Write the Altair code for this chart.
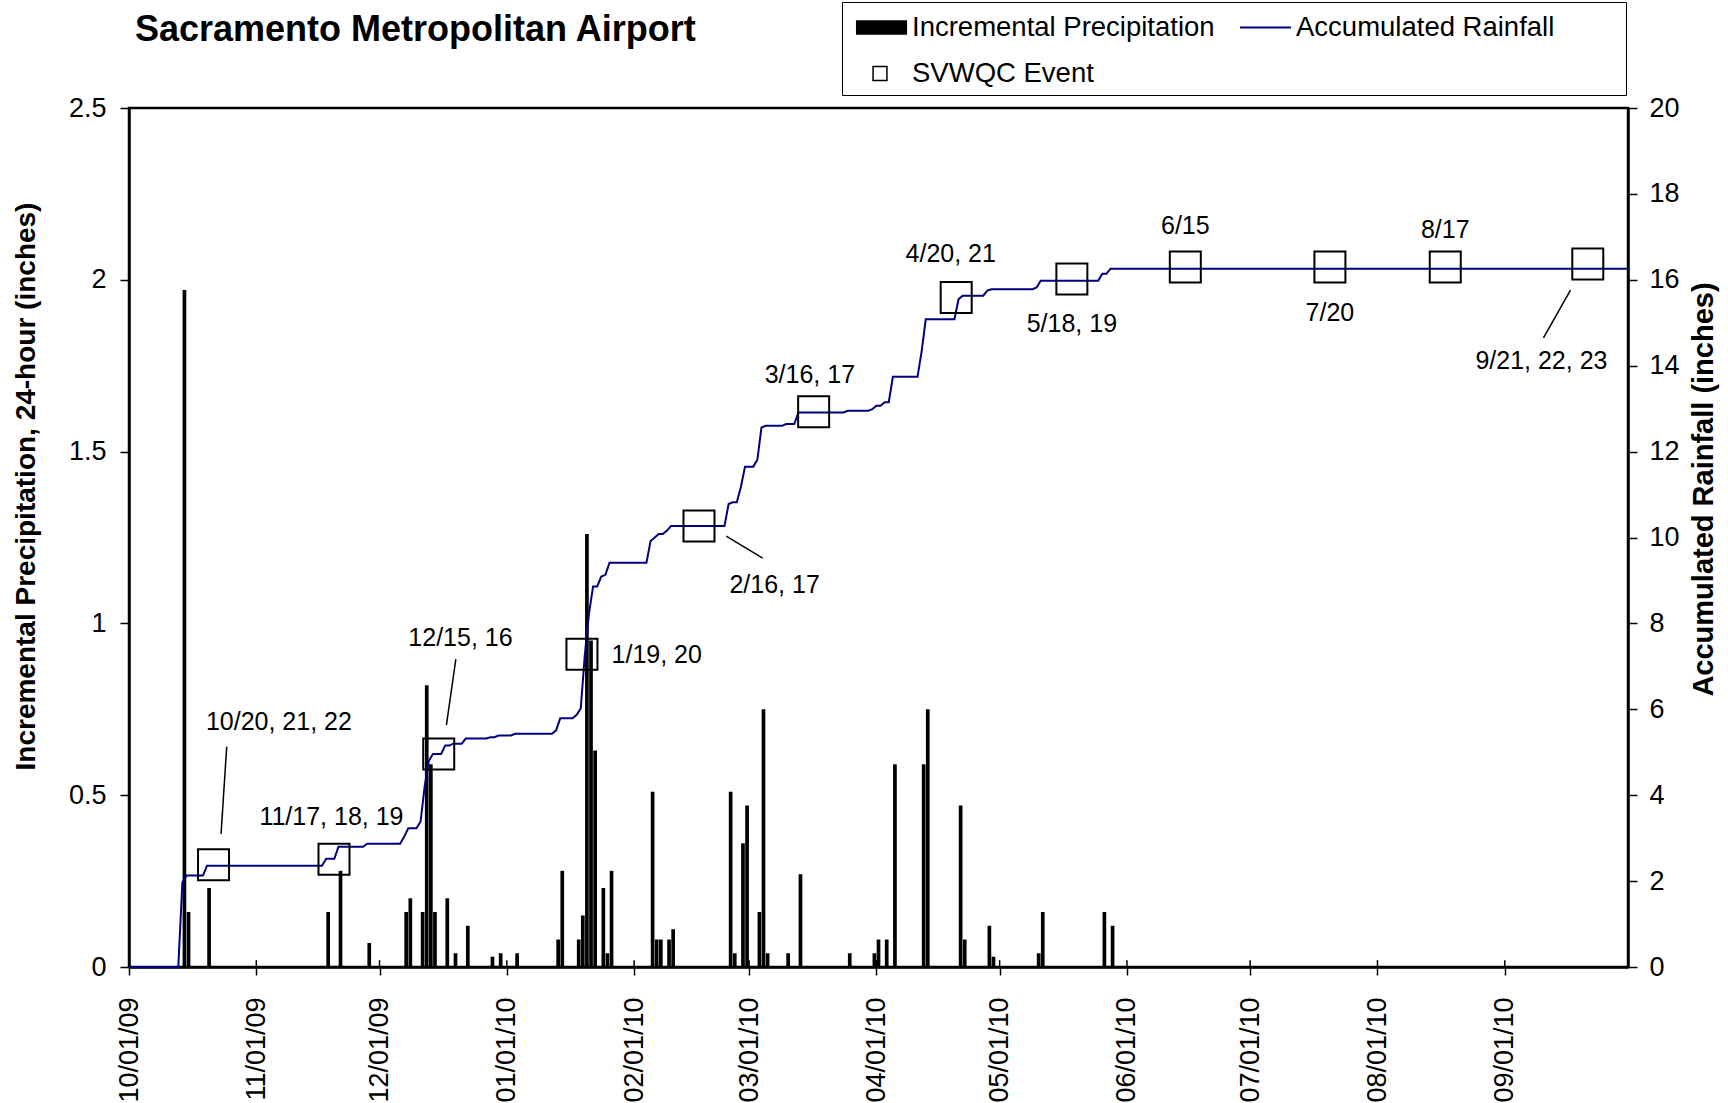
import altair as alt
import pandas as pd

FONT = "Liberation Sans"
TITLE = "Sacramento Metropolitan Airport"

# ---- daily incremental precipitation (inches) ----
bar_dates = [
    "2009-10-14", "2009-10-15", "2009-10-20", "2009-11-18", "2009-11-21", "2009-11-28",
    "2009-12-07", "2009-12-08", "2009-12-11", "2009-12-12", "2009-12-13", "2009-12-14",
    "2009-12-17", "2009-12-19", "2009-12-22", "2009-12-28", "2009-12-30", "2010-01-03",
    "2010-01-13", "2010-01-14", "2010-01-18", "2010-01-19", "2010-01-20", "2010-01-21",
    "2010-01-22", "2010-01-24", "2010-01-25", "2010-01-26", "2010-02-05", "2010-02-06",
    "2010-02-07", "2010-02-09", "2010-02-10", "2010-02-24", "2010-02-25", "2010-02-27",
    "2010-02-28", "2010-03-03", "2010-03-04", "2010-03-05", "2010-03-10", "2010-03-13",
    "2010-03-25", "2010-03-31", "2010-04-01", "2010-04-03", "2010-04-05", "2010-04-12",
    "2010-04-13", "2010-04-21", "2010-04-22", "2010-04-28", "2010-04-29", "2010-05-10",
    "2010-05-11", "2010-05-26", "2010-05-28",
]
bar_precip = [
    1.97, 0.16, 0.23, 0.16, 0.28, 0.07,
    0.16, 0.20, 0.16, 0.82, 0.59, 0.16,
    0.20, 0.04, 0.12, 0.03, 0.04, 0.04,
    0.08, 0.28, 0.08, 0.15, 1.26, 0.95,
    0.63, 0.23, 0.04, 0.28, 0.51, 0.08,
    0.08, 0.08, 0.11, 0.51, 0.04, 0.36,
    0.47, 0.16, 0.75, 0.04, 0.04, 0.27,
    0.04, 0.04, 0.08, 0.08, 0.59, 0.59,
    0.75, 0.47, 0.08, 0.12, 0.03, 0.04,
    0.16, 0.16, 0.12,
]

# ---- SVWQC events ----
event_times = [
    "2009-10-21T14:00", "2009-11-19T22:00", "2009-12-15T10:00", "2010-01-19T07:00",
    "2010-02-16T19:00", "2010-03-16T17:00", "2010-04-20T10:00", "2010-05-18T14:00",
    "2010-06-15T05:00", "2010-07-20T10:00", "2010-08-17T12:00", "2010-09-21T05:00",
]
event_values = [2.38, 2.51, 4.96, 7.28, 10.27, 12.93, 15.59, 16.02, 16.30, 16.30, 16.30, 16.37]
event_labels = [
    "10/20, 21, 22", "11/17, 18, 19", "12/15, 16", "1/19, 20", "2/16, 17", "3/16, 17",
    "4/20, 21", "5/18, 19", "6/15", "7/20", "8/17", "9/21, 22,  23",
]
# label anchors (date, accumulated-rainfall units)
label_times = [
    "2009-11-06T12:00", "2009-11-19T07:00", "2009-12-20T17:00", "2010-02-06T12:00",
    "2010-03-07T05:00", "2010-03-15T19:00", "2010-04-19T02:00", "2010-05-18T14:00",
    "2010-06-15T05:00", "2010-07-20T10:00", "2010-08-17T12:00", "2010-09-09T22:00",
]
label_values = [5.70, 3.50, 7.66, 7.26, 8.89, 13.78, 16.61, 14.97, 17.25, 15.23, 17.15, 14.10]

# leader lines
leader_start_times = ["2009-10-24T19:00", "2009-12-19T14:00", "2010-02-23T10:00", "2010-09-17T00:00"]
leader_start_values = [5.13, 7.17, 10.03, 15.76]
leader_end_times = ["2009-10-23T10:00", "2009-12-17T07:00", "2010-03-04T07:00", "2010-09-10T10:00"]
leader_end_values = [3.10, 5.63, 9.52, 14.65]

month_starts = [
    "2009-10-01", "2009-11-01", "2009-12-01", "2010-01-01", "2010-02-01", "2010-03-01",
    "2010-04-01", "2010-05-01", "2010-06-01", "2010-07-01", "2010-08-01", "2010-09-01",
    "2010-10-01",
]
series_names = ["Incremental Precipitation", "Accumulated Rainfall", "SVWQC Event"]
left_ticks = [0, 0.5, 1, 1.5, 2, 2.5]
right_ticks = list(range(0, 21, 2))

# ---- tables ----
def iso(s):
    return pd.to_datetime(pd.Series(s)).dt.strftime("%Y-%m-%dT%H:%M:%S")

bar_ts = pd.to_datetime(pd.Series(bar_dates))
bars_df = pd.DataFrame({
    "date": (bar_ts + pd.Timedelta(hours=12)).dt.strftime("%Y-%m-%dT%H:%M:%S"),
    "precip": bar_precip,
})
days = pd.date_range("2009-10-01", "2010-10-01", freq="D")
daily = pd.Series(bar_precip, index=pd.to_datetime(bar_dates)).reindex(days, fill_value=0.0)
line_df = pd.DataFrame({
    "date": pd.Series(days).dt.strftime("%Y-%m-%dT%H:%M:%S"),
    "cum": daily.cumsum().round(3).values,
})
ev_df = pd.DataFrame({"date": iso(event_times), "val": event_values})
lab_df = pd.DataFrame({"date": iso(label_times), "val": label_values, "text": event_labels})
lead_df = pd.DataFrame({
    "date": iso(leader_start_times), "val": leader_start_values,
    "date2": iso(leader_end_times), "val2": leader_end_values,
})
ticks_df = pd.DataFrame({"date": iso(month_starts), "y0": 0.0, "y1": 0.02})

# ---- scales / axes ----
month_dt = [alt.DateTime(year=int(m[:4]), month=int(m[5:7]), date=1) for m in month_starts[:-1]]
xscale = alt.Scale(domain=[alt.DateTime(year=2009, month=10, date=1),
                           alt.DateTime(year=2010, month=10, date=1)], padding=0)
xaxis = alt.Axis(values=month_dt, format="%m/%d/%y", labelAngle=270, labelAlign="right",
                 labelBaseline="middle", labelFont=FONT, labelFontSize=27, labelColor="black",
                 labelPadding=22, labelFlush=False, labelOverlap=False, tickSize=8, tickWidth=1.5,
                 tickColor="black", domainColor="black", domainWidth=2.5, grid=False, title=None)
lscale = alt.Scale(domain=[0, 2.5], nice=False, zero=True, padding=0)
laxis = alt.Axis(orient="left", values=left_ticks, format=".1~f", labelFont=FONT, labelFontSize=27,
                 labelColor="black", labelPadding=14, tickSize=9, tickWidth=1.5, tickColor="black",
                 domainColor="black", domainWidth=2.5, grid=False, labelFlush=False,
                 title="Incremental Precipitation, 24-hour (inches)", titleFont=FONT,
                 titleFontSize=28, titleFontWeight="bold", titleColor="black", titleAngle=270,
                 titleX=-103, titleY=378, titleBaseline="middle", titleAlign="center")
rscale = alt.Scale(domain=[0, 20], nice=False, zero=True, padding=0)
raxis = alt.Axis(orient="right", values=right_ticks, format="d", labelFont=FONT, labelFontSize=27,
                 labelColor="black", labelPadding=12, tickSize=9, tickWidth=1.5, tickColor="black",
                 domainColor="black", domainWidth=2.5, grid=False, labelFlush=False,
                 title="Accumulated Rainfall (inches)", titleFont=FONT, titleFontSize=29,
                 titleFontWeight="bold", titleColor="black", titleAngle=270, titleX=75,
                 titleY=381, titleBaseline="middle", titleAlign="center")

X = alt.X("date:T", scale=xscale, axis=xaxis)

bars = alt.Chart(bars_df).mark_bar(color="black", size=3.7).encode(
    x=X, y=alt.Y("precip:Q", scale=lscale, axis=laxis))
ticks_in = alt.Chart(ticks_df).mark_rule(color="black", strokeWidth=1.5).encode(
    x=X, y=alt.Y("y0:Q", scale=lscale, axis=laxis), y2="y1:Q")
left = alt.layer(bars, ticks_in)

line = alt.Chart(line_df).mark_line(color="#000080", strokeWidth=2).encode(
    x=X, y=alt.Y("cum:Q", scale=rscale, axis=raxis))
squares = alt.Chart(ev_df).mark_point(shape="square", size=961, filled=False, color="black",
                                      strokeWidth=2, opacity=1).encode(
    x=X, y=alt.Y("val:Q", scale=rscale, axis=raxis))
leaders = alt.Chart(lead_df).mark_rule(color="black", strokeWidth=1.5).encode(
    x=X, x2="date2:T", y=alt.Y("val:Q", scale=rscale, axis=raxis), y2="val2:Q")
labels = alt.Chart(lab_df).mark_text(font=FONT, fontSize=25, color="black", align="center",
                                     baseline="middle").encode(
    x=X, y=alt.Y("val:Q", scale=rscale, axis=raxis), text="text:N")

PAD = "\u2800" * 3
legend = alt.Legend(title=None, orient="none", legendX=713, legendY=-106, columns=2,
                    direction="horizontal",
                    symbolSize=1225, symbolStrokeWidth=0, symbolOpacity=1, labelFont=FONT,
                    labelFontSize=27.5, labelColor="black", labelLimit=700, labelOffset=27,
                    columnPadding=19, rowPadding=15, padding=8, strokeColor="black",
                    fillColor="white",
                    labelExpr="datum.label == 'Accumulated Rainfall' ? datum.label + '" + PAD + "' : datum.label")
shape_paths = [
    "M-0.66,-0.41H2.26V0.41H-0.66Z",
    "M-0.66,-0.06H2.26V0.06H-0.66Z",
    "M0.274,-0.44H1.154V0.44H0.274ZM0.36,-0.355V0.355H1.068V-0.355Z",
]
legend_layer = alt.Chart(pd.DataFrame({"series": series_names})).transform_filter(
    "false").mark_point(filled=True, opacity=1).encode(
    color=alt.Color("series:N", scale=alt.Scale(domain=series_names,
                                                range=["#000000", "#000080", "#000000"]),
                    legend=legend),
    shape=alt.Shape("series:N", scale=alt.Scale(domain=series_names, range=shape_paths),
                    legend=legend),
)
right = alt.layer(line, squares, leaders, labels, legend_layer)

chart = alt.layer(left, right).resolve_scale(y="independent").properties(
    width=1499, height=859,
    padding={"left": 129, "top": 108, "right": 100, "bottom": 136},
    autosize=alt.AutoSizeParams(type="none"),
    background="white",
    title=alt.Title(TITLE, anchor="start", frame="group", font=FONT, fontSize=36,
                    fontWeight="bold", color="black", baseline="alphabetic", offset=-39,
                    dx=6, dy=36),
).configure_view(stroke="black", strokeWidth=2.5)

chart.save("out.html", embed_options={"renderer": "svg", "actions": False})
